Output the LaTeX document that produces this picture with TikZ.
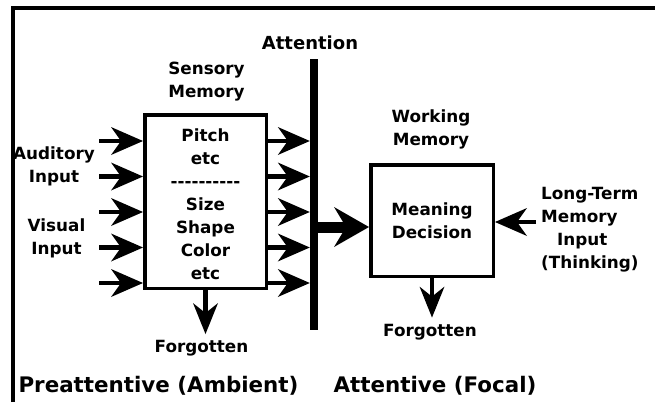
\documentclass[tikz,border=0pt]{standalone}
\usepackage{fontspec}
\newfontfamily\lbl{DejaVu Sans}
\usetikzlibrary{arrows.meta}
% a row of hyphens kept apart so they never merge into dashes
\newcommand\hyrule{-\kern0pt-\kern0pt-\kern0pt-\kern0pt-\kern0pt-\kern0pt-\kern0pt-\kern0pt-\kern0pt-}
\begin{document}
\begin{tikzpicture}[x=1pt,y=-1pt,
  txt/.style={inner sep=0pt, align=center, font=\lbl\bfseries\fontsize{16.8}{23}\selectfont},
  head/.style={inner sep=0pt, font=\lbl\bfseries\fontsize{18}{22}\selectfont},
  big/.style={inner sep=0pt, font=\lbl\bfseries\fontsize{21.4}{26}\selectfont},
  memory/.style={draw, line width=3.5pt, inner sep=0pt},
  arr/.style={line width=4.5pt, -{Stealth[length=32pt,width=28pt,inset=10pt,line width=0pt]}},
  downarr/.style={line width=4.5pt, -{Stealth[length=31pt,width=25pt,inset=10pt,line width=0pt]}},
  bigarr/.style={line width=11pt, -{Stealth[length=35pt,width=40pt,inset=12pt,line width=0pt]}}]

\useasboundingbox (0,0) rectangle (655,402);
\fill[white] (0,0) rectangle (655,402);
% frame along the top and left
\draw[line width=4pt] (13,402) -- (13,8) -- (655,8);

% memory stores
\node[memory, minimum width=121.5pt, minimum height=173.5pt] (sm) at (205.5,201.5) {};
\node[txt] (smtext) at (205.5,203.8) {Pitch\\etc\\\hyrule\\Size\\Shape\\Color\\etc};
\node[memory, txt, minimum width=122.5pt, minimum height=111.5pt] (wm) at (432,220.5) {Meaning\\Decision};

% attention barrier
\node[fill, minimum width=8pt, minimum height=271pt, inner sep=0pt] (bar) at (314,194.5) {};

% labels
\node[head, anchor=base] (att) at (310,49.6) {Attention};
\node[txt] (smlabel) at (206.5,81.2) {Sensory\\Memory};
\node[txt] (aud) at (54,166.2) {Auditory\\Input};
\node[txt] (vis) at (56.5,238.2) {Visual\\Input};
\node[txt] (wmlabel) at (431,129.7) {Working\\Memory};
\node[txt, align=left, anchor=west] (ltm) at (541,229.2) {Long-Term\\Memory\\\hspace*{16pt}Input\\(Thinking)};
\node[txt, anchor=base] (fg1) at (201.5,352.5) {Forgotten};
\node[txt, anchor=base] (fg2) at (430,336) {Forgotten};
\node[big, anchor=base] (pre) at (158.5,392.8) {Preattentive (Ambient)};
\node[big, anchor=base] (foc) at (435,392.8) {Attentive (Focal)};

% sensory channels into and out of sensory memory
\foreach \i/\y in {1/141,2/176.5,3/212,4/247.5,5/283}
  \coordinate (in\i) at (99,\y);
\foreach \i in {1,...,5} {
  \draw[arr] (in\i) -- (in\i -| sm.west);
  \draw[arr] (in\i -| sm.east) -- (in\i -| bar.west);
}

% attended information into working memory
\coordinate (focus) at (318,227);
\draw[bigarr] (bar.east |- focus) -- (wm.west |- focus);

% long-term memory input
\coordinate (ltin) at (536,222);
\draw[arr] (ltin) -- (ltin -| wm.east);

% decay
\draw[downarr, shorten >=6pt] (sm.south) -- (sm.south |- fg1.north);
\draw[downarr, shorten >=6pt] (wm.south) -- (wm.south |- fg2.north);
\end{tikzpicture}
\end{document}
